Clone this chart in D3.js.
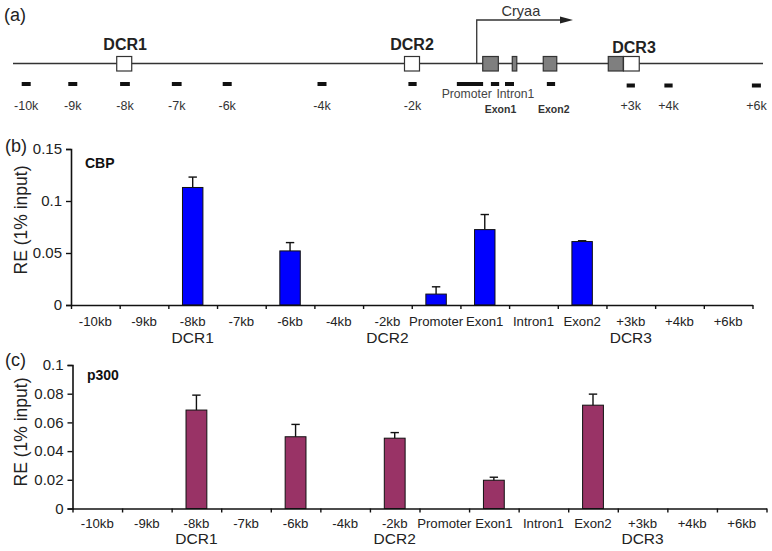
<!DOCTYPE html>
<html><head><meta charset="utf-8">
<script src="https://cdn.jsdelivr.net/npm/d3@7"></script>
<style>
body{margin:0;background:#fff;}
text{font-family:"Liberation Sans",Arial,Helvetica,sans-serif;}
</style></head><body>
<svg id="c" width="772" height="551"></svg>
<script>
// ---------- DATA ----------
const categories = ["-10kb","-9kb","-8kb","-7kb","-6kb","-4kb","-2kb","Promoter","Exon1","Intron1","Exon2","+3kb","+4kb","+6kb"];
const regionLabels = [{cat:"-8kb", text:"DCR1"},{cat:"-2kb", text:"DCR2"},{cat:"+3kb", text:"DCR3"}];
const cbpValues = [0,0,0.113,0,0.052,0,0,0.0105,0.0725,0,0.061,0,0,0];
const cbpErrors = [0,0,0.010,0,0.008,0,0,0.007,0.0145,0,0.0008,0,0,0];
const p300Values = [0,0,0.0686,0,0.050,0,0.049,0,0.0197,0,0.072,0,0,0];
const p300Errors = [0,0,0.0104,0,0.0086,0,0.0039,0,0.0021,0,0.0077,0,0,0];
const cbpTicks = [0,0.05,0.1,0.15];
const p300Ticks = [0,0.02,0.04,0.06,0.08,0.1];

// Gene map (panel a), positions in arbitrary map units 0..100
const mapExtent = [0,100];
const dcrBoxes = [{name:"DCR1", pos:14.83, w:2.0},{name:"DCR2", pos:53.2, w:2.0},{name:"DCR3", pos:82.45, w:2.1}];
const exonBoxes = [{pos:63.67, w:2.08},{pos:66.87, w:0.6},{pos:71.6, w:1.8},{pos:80.37, w:2.0}];
const dcrLabelPos = [14.95, 53.2, 82.8];
const probes = [
  {label:"-10k", pos:1.76, w:1.2},{label:"-9k", pos:7.97, w:1.2},{label:"-8k", pos:14.93, w:1.3},
  {label:"-7k", pos:21.83, w:1.3},{label:"-6k", pos:28.56, w:1.2},{label:"-4k", pos:41.2, w:1.2},
  {label:"-2k", pos:53.27, w:1.1},{label:"", pos:60.93, w:3.5},{label:"", pos:64.27, w:1.1},
  {label:"", pos:66.2, w:1.2},{label:"", pos:71.73, w:1.1},{label:"+3k", pos:82.37, w:1.1},
  {label:"+4k", pos:87.4, w:1.1},{label:"+6k", pos:99.12, w:1.2}
];
const upperProbeLabels = [{text:"Promoter", pos:57.15},{text:"Intron1", pos:64.45}];
const exonProbeLabels = [{text:"Exon1", pos:65.0},{text:"Exon2", pos:72.1}];
const tssStart = 61.83, tssEnd = 74.67;
const geneName = "Cryaa";

// ---------- DRAW ----------
const svg = d3.select("#c");

// Panel letters
[["(a)",4,21],["(b)",5,152],["(c)",5,366]].forEach(([t,x,y])=>{
  svg.append("text").attr("x",x).attr("y",y).attr("font-size",18).attr("fill","#222").text(t);
});

// ---- Panel (a): map ----
const mx = d3.scaleLinear().domain(mapExtent).range([13,763]);
const lineY = 63.5;
const ga = svg.append("g");
ga.append("line").attr("x1",mx(0)).attr("x2",mx(100)).attr("y1",lineY).attr("y2",lineY)
  .attr("stroke","#333").attr("stroke-width",1.5);
// TSS arrow
const arrowY = 20;
ga.append("path").attr("d",`M${mx(tssStart)},${lineY} V${arrowY} H${mx(tssEnd)-10}`)
  .attr("fill","none").attr("stroke","#333").attr("stroke-width",1.3);
ga.append("path").attr("d",`M${mx(tssEnd)-13},${arrowY-3.5} L${mx(tssEnd)},${arrowY} L${mx(tssEnd)-13},${arrowY+3.5}Z`).attr("fill","#222");
ga.append("text").attr("x",(mx(tssStart)+mx(tssEnd))/2 - 4).attr("y",16).attr("text-anchor","middle")
  .attr("font-size",14.5).attr("fill","#333").text(geneName);
// exon boxes (gray)
ga.selectAll("rect.ex").data(exonBoxes).join("rect").attr("class","ex")
  .attr("x",d=>mx(d.pos-d.w/2)).attr("width",d=>mx(d.w)-mx(0))
  .attr("y",56.5).attr("height",14.5).attr("fill","#7f7f7f").attr("stroke","#333").attr("stroke-width",1.2);
// DCR boxes (white)
ga.selectAll("rect.dcr").data(dcrBoxes).join("rect").attr("class","dcr")
  .attr("x",d=>mx(d.pos-d.w/2)).attr("width",d=>mx(d.w)-mx(0))
  .attr("y",56.5).attr("height",14.5).attr("fill","#fff").attr("stroke","#333").attr("stroke-width",1.2);
ga.selectAll("text.dcr").data(dcrBoxes).join("text").attr("class","dcr")
  .attr("x",(d,i)=>mx(dcrLabelPos[i])).attr("y",(d,i)=>i===2?53:50).attr("text-anchor","middle")
  .attr("font-size",16).attr("font-weight","bold").attr("fill","#222").text(d=>d.name);
// probes
ga.selectAll("rect.pr").data(probes).join("rect").attr("class","pr")
  .attr("x",d=>mx(d.pos-d.w/2)).attr("width",d=>mx(d.w)-mx(0))
  .attr("y",(d,i)=>i>=11?83.5:82).attr("height",4).attr("fill","#111");
ga.selectAll("text.pr").data(probes.filter(d=>d.label)).join("text").attr("class","pr")
  .attr("x",d=>mx(d.pos)).attr("y",110).attr("text-anchor","middle")
  .attr("font-size",12.5).attr("fill","#333").text(d=>d.label);
ga.selectAll("text.up").data(upperProbeLabels).join("text").attr("class","up")
  .attr("x",d=>mx(d.pos)).attr("y",98).attr("font-size",12.2).attr("fill","#444").text(d=>d.text);
ga.selectAll("text.exl").data(exonProbeLabels).join("text").attr("class","exl")
  .attr("x",d=>mx(d.pos)).attr("y",112.5).attr("text-anchor","middle")
  .attr("font-size",10.5).attr("font-weight","bold").attr("fill","#333").text(d=>d.text);

// ---- bar panels ----
function barPanel(opt){
  const g = svg.append("g");
  const x = d3.scaleBand().domain(categories).range([opt.x0,opt.x1]).padding(0);
  const xi = d3.scaleLinear().domain([0,categories.length]).range([opt.x0,opt.x1]);
  const y = d3.scaleLinear().domain([0,opt.max]).range([opt.y0,opt.y1]);
  const bw = x.bandwidth()*0.42;
  // bars
  g.selectAll("rect.bar").data(opt.values).join("rect")
    .attr("x",(d,i)=>x(categories[i])+x.bandwidth()/2-bw/2).attr("width",bw)
    .attr("y",d=>y(d)).attr("height",d=>y(0)-y(d))
    .attr("fill",opt.color).attr("stroke","#111").attr("stroke-width",1)
    .attr("display",d=>d>0?null:"none");
  // error bars
  const eb = g.selectAll("g.err").data(opt.values.map((v,i)=>({v,e:opt.errors[i],c:categories[i]})).filter(d=>d.v>0)).join("g");
  eb.append("line").attr("x1",d=>x(d.c)+x.bandwidth()/2).attr("x2",d=>x(d.c)+x.bandwidth()/2)
    .attr("y1",d=>y(d.v)).attr("y2",d=>y(d.v+d.e)).attr("stroke","#111").attr("stroke-width",1.4);
  eb.append("line").attr("x1",d=>x(d.c)+x.bandwidth()/2-4.2).attr("x2",d=>x(d.c)+x.bandwidth()/2+4.2)
    .attr("y1",d=>y(d.v+d.e)).attr("y2",d=>y(d.v+d.e)).attr("stroke","#111").attr("stroke-width",1.4);
  // y axis
  const ya = g.append("g").attr("transform",`translate(${opt.x0},0)`)
    .call(d3.axisLeft(y).tickValues(opt.ticks).tickSize(5).tickPadding(4).tickFormat(d=>String(+d.toFixed(2))));
  ya.select(".domain").attr("stroke","#111").attr("stroke-width",1.6);
  ya.selectAll(".tick line").attr("stroke","#111").attr("stroke-width",1.4);
  ya.selectAll(".tick text").attr("font-size",15).attr("fill","#222")
    .attr("font-family","'Liberation Sans',Arial,sans-serif");
  // x axis
  const xa = g.append("g").attr("transform",`translate(0,${opt.y0})`)
    .call(d3.axisBottom(xi).tickValues(d3.range(0,categories.length+1)).tickSize(4).tickSizeOuter(0).tickFormat(""));
  xa.select(".domain").attr("stroke","#111").attr("stroke-width",1.6);
  xa.selectAll(".tick line").attr("stroke","#111").attr("stroke-width",1.4);
  g.selectAll("text.cat").data(categories).join("text").attr("class","cat")
    .attr("x",d=>x(d)+x.bandwidth()/2).attr("y",opt.y0+opt.catDy).attr("text-anchor","middle")
    .attr("font-size",13.2).attr("fill","#222").text(d=>d);
  g.selectAll("text.reg").data(regionLabels).join("text").attr("class","reg")
    .attr("x",d=>x(d.cat)+x.bandwidth()/2).attr("y",opt.y0+opt.regDy).attr("text-anchor","middle")
    .attr("font-size",15.5).attr("fill","#222").text(d=>d.text);
  // y title
  g.append("text").attr("transform",`translate(${opt.titleX},${opt.titleY}) rotate(-90)`)
    .attr("text-anchor","middle").attr("dominant-baseline","middle")
    .attr("font-size",17.5).attr("fill","#222").text("RE (1% input)");
  // series name
  g.append("text").attr("x",opt.nameX).attr("y",opt.nameY).attr("font-size",14)
    .attr("font-weight","bold").attr("fill","#111").text(opt.name);
}

barPanel({x0:71,x1:752.5,y0:305,y1:149,max:0.15,ticks:cbpTicks,values:cbpValues,errors:cbpErrors,
  color:"#0000ff",name:"CBP",nameX:85,nameY:168,catDy:21,regDy:38,titleX:22,titleY:220});
barPanel({x0:72.5,x1:766.5,y0:508.5,y1:365,max:0.1,ticks:p300Ticks,values:p300Values,errors:p300Errors,
  color:"#993366",name:"p300",nameX:87,nameY:380,catDy:19,regDy:35,titleX:22,titleY:432});
</script></body></html>
